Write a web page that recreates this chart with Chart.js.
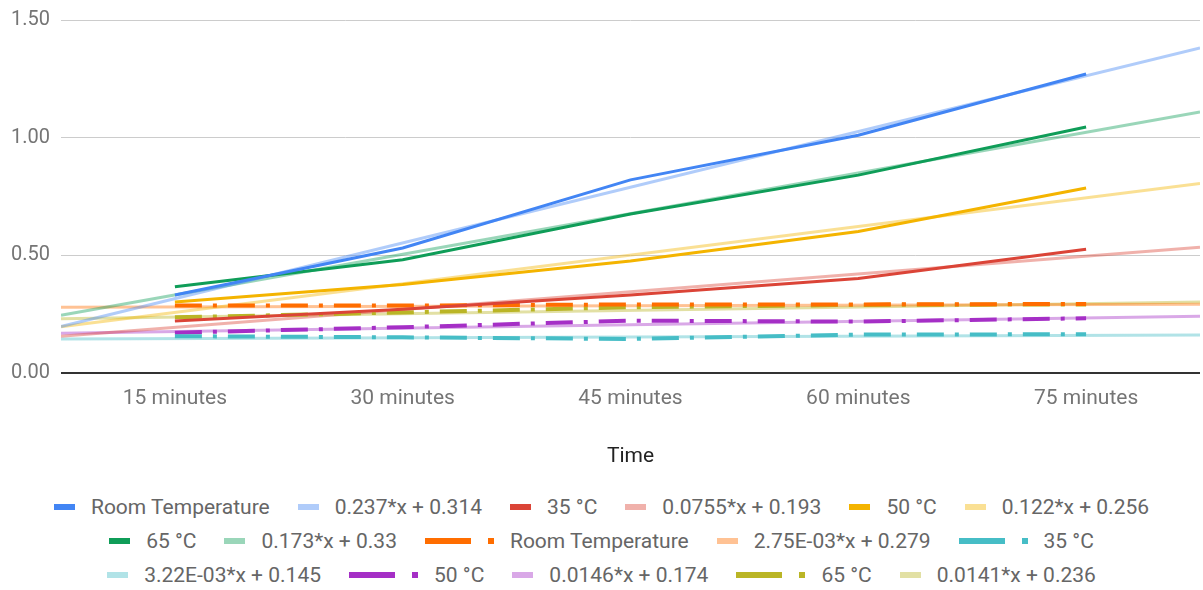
<!DOCTYPE html>
<html>
<head>
<meta charset="utf-8">
<script src="https://cdn.jsdelivr.net/npm/chart.js@4.4.1/dist/chart.umd.min.js"></script>
<style>
  body { margin: 0; background: #fff; font-family: Roboto, sans-serif; }
  #wrap { position: relative; width: 1203px; height: 475px; }
  #legend { display: flex; flex-wrap: wrap; justify-content: center; width: 1150px; margin: 15px auto 0; }
  .item { display: flex; align-items: center; height: 34px; margin: 0 14px; font-size: 21px; color: #666; white-space: nowrap; }
  .bar { display: inline-block; height: 6px; margin-right: 16px; }
  .dot { display: inline-block; width: 6px; height: 6px; margin-left: 17px; margin-right: 16px; }
</style>
</head>
<body>
<div id="wrap"><canvas id="chart"></canvas></div>
<div id="legend"></div>
<script>
const labels = ["15 minutes", "30 minutes", "45 minutes", "60 minutes", "75 minutes"];

// measured values (solid series)
const roomTemp = [0.33, 0.53, 0.82, 1.01, 1.27];
const temp35 = [0.22, 0.27, 0.33, 0.40, 0.525];
const temp50 = [0.30, 0.375, 0.475, 0.60, 0.785];
const temp65 = [0.365, 0.48, 0.675, 0.84, 1.045];

// measured values (dash-dot series)
const roomTemp2 = [0.285, 0.285, 0.29, 0.29, 0.292];
const temp35b = [0.155, 0.15, 0.143, 0.162, 0.163];
const temp50b = [0.17, 0.193, 0.221, 0.217, 0.231];
const temp65b = [0.235, 0.256, 0.278, 0.288, 0.29];

// trendline ends, at the left and right edge of the plot
const trendLabels = ["0.237*x + 0.314", "0.0755*x + 0.193", "0.122*x + 0.256", "0.173*x + 0.33",
  "2.75E-03*x + 0.279", "3.22E-03*x + 0.145", "0.0146*x + 0.174", "0.0141*x + 0.236"];
const trendStart = [0.196, 0.155, 0.195, 0.244, 0.278, 0.143, 0.167, 0.229];
const trendEnd = [1.381, 0.533, 0.805, 1.109, 0.291, 0.160, 0.240, 0.300];

const seriesNames = ["Room Temperature", "35 °C", "50 °C", "65 °C", "Room Temperature", "35 °C", "50 °C", "65 °C"];
const seriesValues = [roomTemp, temp35, temp50, temp65, roomTemp2, temp35b, temp50b, temp65b];
const colors = ["#4285F4", "#DB4437", "#F4B400", "#0F9D58", "#FF6D00", "#46BDC6", "#A52FC6", "#BAB526"];

function light(hex, a) {
  const n = parseInt(hex.slice(1), 16);
  return `rgba(${n >> 16}, ${(n >> 8) & 255}, ${n & 255}, ${a})`;
}

const datasets = [];
seriesValues.forEach((vals, i) => {
  const dashed = i >= 4;
  datasets.push({
    label: seriesNames[i],
    data: vals.map((v, j) => ({ x: j, y: v })),
    borderColor: colors[i],
    borderWidth: dashed ? 4 : 3,
    borderDash: dashed ? [27, 11, 4, 11] : [],
    borderCapStyle: "butt",
    pointRadius: 0,
    order: 0,
    dashed: dashed,
  });
  datasets.push({
    label: trendLabels[i],
    data: [{ x: -0.5, y: trendStart[i] }, { x: 4.5, y: trendEnd[i] }],
    borderColor: light(colors[i], 0.42),
    borderWidth: 3,
    pointRadius: 0,
    order: 1,
    trend: true,
  });
});

new Chart(document.getElementById("chart"), {
  type: "line",
  data: { datasets },
  options: {
    responsive: true,
    maintainAspectRatio: false,
    animation: false,
    layout: { padding: { top: 2, right: 3, left: 0, bottom: 4 } },
    plugins: { legend: { display: false }, tooltip: { enabled: false } },
    scales: {
      x: {
        type: "linear",
        min: -0.5,
        max: 4.5,
        afterBuildTicks: scale => { scale.ticks = labels.map((_, i) => ({ value: i })); },
        ticks: { callback: v => labels[v], color: "#757575", font: { family: "Roboto", size: 21 }, padding: 14, maxRotation: 0 },
        grid: { display: false, drawTicks: false },
        border: { display: false },
        title: { display: true, text: "Time", color: "#222", font: { family: "Roboto", size: 21 }, padding: { top: 18, bottom: 2 } },
      },
      y: {
        min: 0,
        max: 1.5,
        ticks: { stepSize: 0.5, callback: v => v.toFixed(2), color: "#757575", font: { family: "Roboto", size: 20, lineHeight: 0.9 }, padding: 11 },
        grid: { drawTicks: false, color: c => c.tick.value === 0 ? "#333" : "#ccc", lineWidth: c => c.tick.value === 0 ? 2 : 1 },
        border: { display: false },
      },
    },
  },
});

// legend built from the datasets, in series/trendline order
const legend = document.getElementById("legend");
datasets.forEach(ds => {
  const item = document.createElement("div");
  item.className = "item";
  const bar = document.createElement("span");
  bar.className = "bar";
  bar.style.background = ds.borderColor;
  bar.style.width = ds.dashed ? "46px" : "21px";
  item.appendChild(bar);
  if (ds.dashed) {
    bar.style.marginRight = "0";
    const dot = document.createElement("span");
    dot.className = "dot";
    dot.style.background = ds.borderColor;
    item.appendChild(dot);
  }
  item.appendChild(document.createTextNode(ds.label));
  legend.appendChild(item);
});
</script>
</body>
</html>
